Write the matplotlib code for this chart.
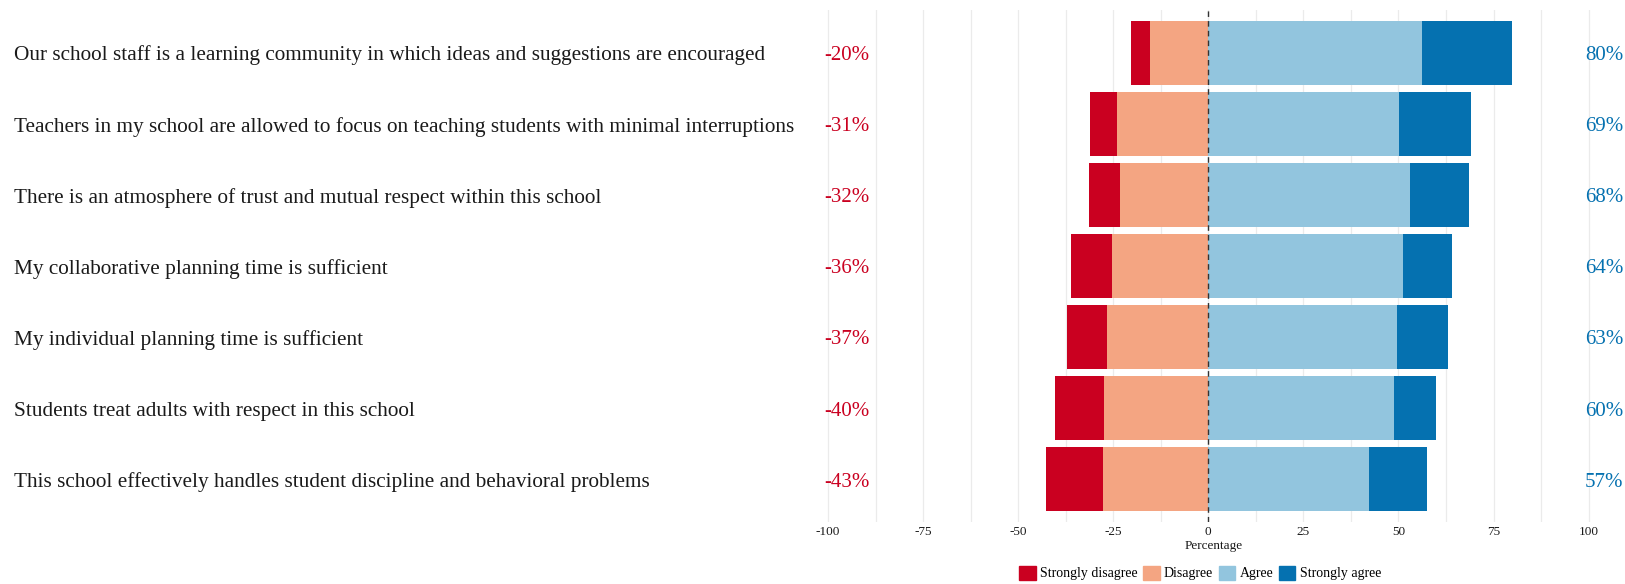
import matplotlib
matplotlib.use("Agg")
import matplotlib.pyplot as plt
import matplotlib.transforms as mtransforms
from matplotlib.patches import Patch
import numpy as np

plt.rcParams['font.family'] = ['Liberation Serif', 'DejaVu Serif']

# survey items, top to bottom
items = [
    "Our school staff is a learning community in which ideas and suggestions are encouraged",
    "Teachers in my school are allowed to focus on teaching students with minimal interruptions",
    "There is an atmosphere of trust and mutual respect within this school",
    "My collaborative planning time is sufficient",
    "My individual planning time is sufficient",
    "Students treat adults with respect in this school",
    "This school effectively handles student discipline and behavioral problems",
]

strongly_disagree = [5.0, 7.0, 8.2, 10.8, 10.5, 12.9, 14.8]
disagree = [15.2, 24.0, 23.3, 25.2, 26.6, 27.3, 27.8]
agree = [56.1, 50.1, 53.0, 51.3, 49.5, 48.9, 42.2]
strongly_agree = [23.8, 19.0, 15.5, 12.7, 13.5, 10.9, 15.3]

neg_labels = ["-20%", "-31%", "-32%", "-36%", "-37%", "-40%", "-43%"]
pos_labels = ["80%", "69%", "68%", "64%", "63%", "60%", "57%"]

col_sd = "#ca0020"
col_d = "#f4a582"
col_a = "#92c5de"
col_sa = "#0571b0"
text_col = "#1a1a1a"

W, H = 1625, 584
fig = plt.figure(figsize=(W / 100, H / 100), dpi=100)

x0, x1 = -105, 108
left_px, right_px = 809, 1619
top_px, bot_px = 10, 522
ax = fig.add_axes([left_px / W, 1 - bot_px / H, (right_px - left_px) / W, (bot_px - top_px) / H])

y = np.arange(len(items))
sd = np.array(strongly_disagree)
d = np.array(disagree)
a = np.array(agree)
sa = np.array(strongly_agree)

h = 0.9
ax.barh(y, -d, height=h, color=col_d, zorder=2)
ax.barh(y, -sd, left=-d, height=h, color=col_sd, zorder=2)
ax.barh(y, a, height=h, color=col_a, zorder=2)
ax.barh(y, sa, left=a, height=h, color=col_sa, zorder=2)

ax.axvline(0, color="#333333", linestyle=(0, (4, 3)), linewidth=1.0, zorder=3)

ax.set_xlim(x0, x1)
ax.set_ylim(len(items) - 0.4, -0.6)

major = np.arange(-100, 101, 25)
ax.set_xticks(major)
ax.set_xticklabels([str(v) for v in major], fontsize=9.5, color=text_col)
ax.set_xticks(np.arange(-87.5, 100, 25), minor=True)
ax.grid(axis="x", which="both", color="#ebebeb", linewidth=0.9, zorder=0)
ax.tick_params(axis="x", which="both", length=0, pad=3)
ax.set_yticks([])
for s in ax.spines.values():
    s.set_visible(False)
ax.set_xlabel("Percentage", fontsize=9.5, color=text_col, labelpad=1)

# item text on the far left, percent totals at either end
trans = mtransforms.blended_transform_factory(fig.transFigure, ax.transData)
for i, lab in enumerate(items):
    ax.text(14.5 / W, i + 0.04, lab, transform=trans, ha="left", va="center",
            fontsize=15.3, color=text_col)
    ax.text(-101, i + 0.04, neg_labels[i], ha="left", va="center", fontsize=15, color=col_sd)
    ax.text(99, i + 0.04, pos_labels[i], ha="left", va="center", fontsize=15, color=col_sa)

handles = [Patch(color=col_sd), Patch(color=col_d), Patch(color=col_a), Patch(color=col_sa)]
names = ["Strongly disagree", "Disagree", "Agree", "Strongly agree"]
leg_x = 1200 / W
fig.legend(handles, names, loc="center", bbox_to_anchor=(leg_x, 1 - 573 / H), ncol=4,
           frameon=False, fontsize=10, handlelength=1.2, handleheight=1.2,
           handletextpad=0.3, columnspacing=0.4)

fig.savefig("out.png", dpi=100)
